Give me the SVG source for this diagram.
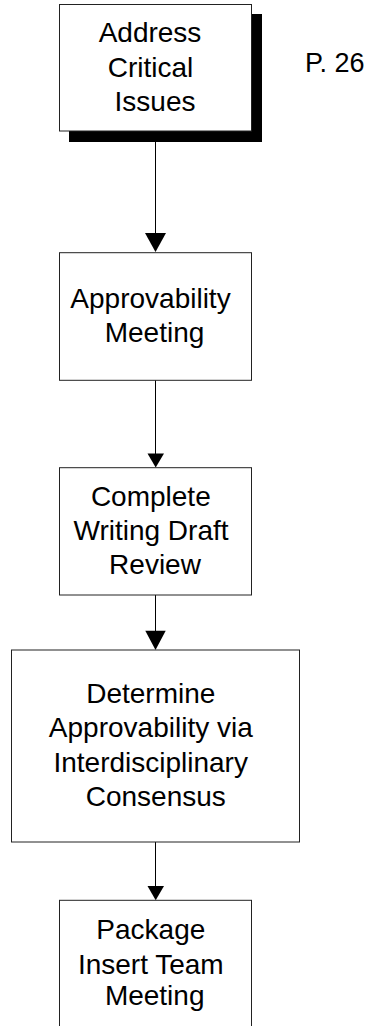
<svg xmlns="http://www.w3.org/2000/svg" width="379" height="1026" viewBox="0 0 379 1026">
<style>
.box{fill:#fff;stroke:#222;stroke-width:1}
.shadow{fill:#000}
.t{font-family:"Liberation Sans",Arial,sans-serif;font-size:28px;fill:#000;text-anchor:middle}
.ts{font-family:"Liberation Sans",Arial,sans-serif;font-size:27px;fill:#000}
.c{stroke:#000;stroke-width:1;fill:none}
.h{fill:#000}
</style>
<rect width="379" height="1026" fill="#fff"/>
<g id="connectors">
<line class="c" x1="155.5" y1="142" x2="155.5" y2="233"/>
<path class="h" d="M145,233 L166,233 L155.5,252 Z"/>
<line class="c" x1="155.5" y1="380" x2="155.5" y2="454"/>
<path class="h" d="M147.5,453.5 L164,453.5 L155.7,467.5 Z"/>
<line class="c" x1="155.5" y1="595" x2="155.5" y2="631"/>
<path class="h" d="M145.3,630.7 L165.7,630.7 L155.5,650 Z"/>
<line class="c" x1="155.5" y1="842" x2="155.5" y2="887"/>
<path class="h" d="M147.5,886 L164,886 L155.7,900.3 Z"/>
</g>
<g id="node1">
<rect class="shadow" x="69" y="14" width="193" height="128"/>
<rect class="box" x="59.5" y="4.5" width="192" height="126.5"/>
<text class="t" x="150" y="41.7">Address</text>
<text class="t" x="150.5" y="76.7">Critical</text>
<text class="t" x="155" y="111">Issues</text>
</g>
<g id="label-p26">
<text class="ts" x="305" y="72.3">P. 26</text>
</g>
<g id="node2">
<rect class="box" x="59.5" y="252.7" width="192" height="127.6"/>
<text class="t" x="150.5" y="308.3">Approvability</text>
<text class="t" x="154.5" y="341.7">Meeting</text>
</g>
<g id="node3">
<rect class="box" x="59.5" y="467.7" width="192" height="127.3"/>
<text class="t" x="150.8" y="506">Complete</text>
<text class="t" x="151" y="540">Writing Draft</text>
<text class="t" x="155" y="574.3">Review</text>
</g>
<g id="node4">
<rect class="box" x="11.5" y="650" width="288" height="192"/>
<text class="t" x="150.8" y="703.3">Determine</text>
<text class="t" x="150.8" y="736.7">Approvability via</text>
<text class="t" x="150.7" y="771.7">Interdisciplinary</text>
<text class="t" x="155.8" y="805.7">Consensus</text>
</g>
<g id="node5">
<rect class="box" x="59.5" y="900.3" width="192" height="140"/>
<text class="t" x="150.8" y="939">Package</text>
<text class="t" x="150.8" y="974">Insert Team</text>
<text class="t" x="154.7" y="1005">Meeting</text>
</g>
</svg>
